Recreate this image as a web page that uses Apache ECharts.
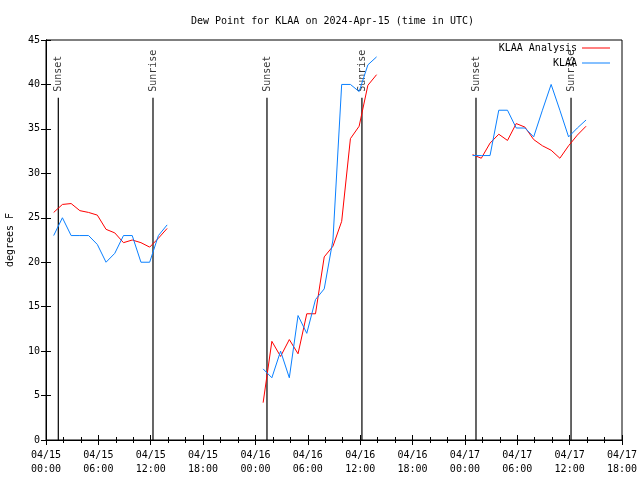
<!DOCTYPE html>
<html>
<head>
<meta charset="utf-8">
<script src="https://cdn.jsdelivr.net/npm/echarts@6/dist/echarts.min.js"></script>
<style>html,body{margin:0;padding:0;background:#fff}#c{width:640px;height:480px}</style>
</head>
<body>
<div id="c"></div>
<script>
// hours since 04/15 00:00 UTC
const seg1Hours = [0.88,1.88,2.88,3.88,4.88,5.88,6.88,7.88,8.88,9.88,10.88,11.88,12.88,13.88];
const seg2Hours = [24.88,25.88,26.88,27.88,28.88,29.88,30.88,31.88,32.88,33.88,34.88,35.88,36.88,37.88];
const seg3Hours = [48.88,49.88,50.88,51.88,52.88,53.88,54.88,55.88,56.88,57.88,58.88,59.88,60.88,61.88];

const analysis1 = [25.6,26.5,26.6,25.8,25.6,25.3,23.7,23.3,22.2,22.5,22.2,21.7,22.7,23.8];
const analysis2 = [4.2,11.1,9.4,11.3,9.7,14.2,14.2,20.6,21.8,24.6,33.9,35.3,39.9,41.1];
const analysis3 = [32.1,31.7,33.4,34.4,33.7,35.6,35.2,33.8,33.1,32.6,31.7,33.1,34.3,35.3];

const klaa1 = [23,25,23,23,23,22,20,21,23,23,20,20,23,24.2];
const klaa2 = [8,7,10,7,14,12,15.8,17,22.5,40,40,39.2,42.2,43.1];
const klaa3 = [32,32,32,37.1,37.1,35.1,35.1,34.1,37.1,40,37.1,34.1,35.1,36];

const sunHours = [1.41,12.26,25.32,36.2,49.27,60.16];
const sunLabels = ['Sunset','Sunrise','Sunset','Sunrise','Sunset','Sunrise'];
const sunLineTop = 38.5;

const xTickLabels = ['04/15\n00:00','04/15\n06:00','04/15\n12:00','04/15\n18:00',
  '04/16\n00:00','04/16\n06:00','04/16\n12:00','04/16\n18:00',
  '04/17\n00:00','04/17\n06:00','04/17\n12:00','04/17\n18:00'];
const yTicks = [0,5,10,15,20,25,30,35,40,45];

const FONT = 'DejaVu Sans Mono';
const RED = '#ff0000', BLUE = '#0a80ff';

function pairs(h, v){ return h.map((t,i)=>[t, v[i]]); }

const series = [];
[[seg1Hours,analysis1],[seg2Hours,analysis2],[seg3Hours,analysis3]].forEach(([h,v])=>{
  series.push({name:'KLAA Analysis', type:'line', data:pairs(h,v), symbol:'none',
    lineStyle:{color:RED,width:1}, itemStyle:{color:RED}, z:3});
});
[[seg1Hours,klaa1],[seg2Hours,klaa2],[seg3Hours,klaa3]].forEach(([h,v])=>{
  series.push({name:'KLAA', type:'line', data:pairs(h,v), symbol:'none',
    lineStyle:{color:BLUE,width:1}, itemStyle:{color:BLUE}, z:4});
});
sunHours.forEach((t,i)=>{
  series.push({name:'sun'+i, type:'line', data:[[t,0],[t,sunLineTop]], symbol:'none',
    lineStyle:{color:'#000',width:1.2}, z:2, silent:true});
});
series.push({name:'sunlabels', type:'scatter', symbolSize:0, silent:true,
  data: sunHours.map((t,i)=>({value:[t,sunLineTop], label:{formatter:sunLabels[i]}})),
  label:{show:true, position:'top', distance:5, rotate:90, align:'left', verticalAlign:'middle',
    color:'#000', fontFamily:FONT, fontSize:10, offset:[1,0]}});

const tickFmt = v => { const i = Math.round(v/6); return xTickLabels[i] || ''; };

const option = {
  animation:false,
  backgroundColor:'#fff',
  title:{text:'Dew Point for KLAA on 2024-Apr-15 (time in UTC)', left:186, top:11,
    textStyle:{fontFamily:FONT, fontSize:10, fontWeight:'normal', color:'#000'}},
  legend:{data:['KLAA Analysis','KLAA'], orient:'vertical', right:25, top:38, align:'right',
    itemWidth:28, itemHeight:10, itemGap:5, icon:'path://M0,4.5 L28,4.5 L28,5.5 L0,5.5 Z',
    textStyle:{fontFamily:FONT, fontSize:10, color:'#000'}},
  grid:{left:46, right:18, top:40, bottom:40, show:true, borderColor:'#000', borderWidth:1,
    containLabel:false, outerBoundsMode:'none'},
  xAxis:[{type:'value', min:0, max:66, interval:6,
    axisLine:{show:true, lineStyle:{color:'#000'}},
    axisTick:{show:true, inside:true, length:5, lineStyle:{color:'#000'}},
    minorTick:{show:true, splitNumber:3, length:3, lineStyle:{color:'#000'}},
    splitLine:{show:false},
    axisLabel:{formatter:tickFmt, fontFamily:FONT, fontSize:10, color:'#000', lineHeight:14, margin:8}},
   {type:'value', min:0, max:66, interval:6, position:'top',
    axisLine:{show:true, lineStyle:{color:'#000'}},
    axisTick:{show:true, inside:true, length:5, lineStyle:{color:'#000'}},
    minorTick:{show:true, splitNumber:3, length:3, lineStyle:{color:'#000'}},
    splitLine:{show:false}, axisLabel:{show:false}}],
  yAxis:[{type:'value', min:0, max:45, interval:5, name:'degrees F', nameLocation:'middle', nameGap:31,
    nameTextStyle:{fontFamily:FONT, fontSize:10, color:'#000'},
    axisLine:{show:true, lineStyle:{color:'#000'}},
    axisTick:{show:true, inside:true, length:5, lineStyle:{color:'#000'}},
    splitLine:{show:false},
    axisLabel:{formatter: v => yTicks.includes(v) ? String(v) : '', fontFamily:FONT, fontSize:10, color:'#000', margin:6}},
   {type:'value', min:0, max:45, interval:5, position:'right',
    axisLine:{show:true, lineStyle:{color:'#000'}},
    axisTick:{show:true, inside:true, length:5, lineStyle:{color:'#000'}},
    splitLine:{show:false}, axisLabel:{show:false}}],
  series: series
};
const chart = echarts.init(document.getElementById('c'), null, {renderer:'canvas'});
chart.setOption(option);
</script>
</body>
</html>
